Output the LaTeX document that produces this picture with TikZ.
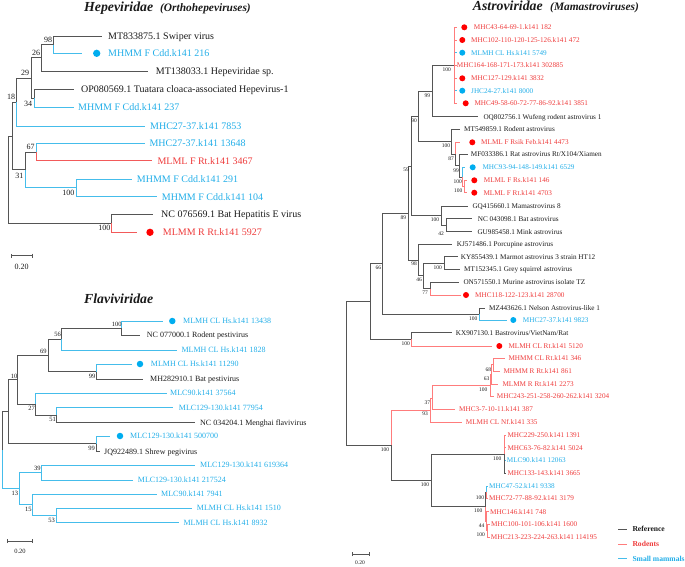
\documentclass[tikz,border=0pt]{standalone}
\usepackage{fontspec}
\setmainfont{Liberation Serif}
\usetikzlibrary{arrows.meta}
\definecolor{gl}{HTML}{555555}
\definecolor{rl}{HTML}{F25A5A}
\definecolor{pl}{HTML}{FF7C7C}
\definecolor{bl}{HTML}{45BDEB}
\definecolor{rt}{HTML}{EE3B3B}
\definecolor{bt}{HTML}{22AEE8}
\definecolor{rd}{HTML}{FF0000}
\definecolor{bd}{HTML}{00ADEF}
\definecolor{tx}{HTML}{1A1A1A}
\tikzset{
  hg/.style={draw=gl,line width=.9pt}, hr/.style={draw=rl,line width=.9pt}, hb/.style={draw=bl,line width=.9pt},
  fg/.style={draw=gl,line width=.8pt}, fb/.style={draw=bl,line width=.8pt},
  ag/.style={draw=gl,line width=.7pt}, ar/.style={draw=pl,line width=.7pt}, ab/.style={draw=bl,line width=.7pt},
  hlab/.style={anchor=west,inner sep=0pt,font=\fontsize{10}{12}\selectfont,text height=6.6pt,text depth=0pt},
  flab/.style={anchor=west,inner sep=0pt,font=\fontsize{8}{10}\selectfont,text height=5.3pt,text depth=0pt},
  alab/.style={anchor=west,inner sep=0pt,font=\fontsize{7.2}{9}\selectfont,text height=4.75pt,text depth=0pt},
  hk/.style={hlab,text=tx}, hrt/.style={hlab,text=rt}, hbt/.style={hlab,text=bt},
  fk/.style={flab,text=tx}, fbt/.style={flab,text=bt},
  ak/.style={alab,text=tx}, art/.style={alab,text=rt}, abt/.style={alab,text=bt},
  hbs/.style={inner sep=0pt,font=\fontsize{8}{9}\selectfont,text=tx},
  fbs/.style={inner sep=0pt,font=\fontsize{6.5}{8}\selectfont,text=tx},
  abs/.style={inner sep=0pt,font=\fontsize{5.5}{7}\selectfont,text=tx},
  rdot/.style={circle,fill=rd,inner sep=0pt,minimum size=#1},
  bdot/.style={circle,fill=bd,inner sep=0pt,minimum size=#1},
  ttl/.style={anchor=base west,inner sep=0pt,font=\fontsize{13.8}{15}\bfseries\itshape\selectfont,text=tx},
  sttl/.style={anchor=base west,inner sep=0pt,font=\fontsize{11.4}{13}\bfseries\itshape\selectfont,text=tx},
  sbar/.style={draw=gl,line width=.7pt,{Bar[width=4pt]}-{Bar[width=4pt]}},
  leg/.style={anchor=west,inner sep=0pt,font=\fontsize{7.6}{9}\bfseries\selectfont,text height=5pt,text depth=0pt}
}
\begin{document}
\begin{tikzpicture}[x=1pt,y=-1pt]
\useasboundingbox (0,0) rectangle (685,566);

%================ Hepeviridae ================
\node[ttl] (ht) at (84,11) {Hepeviridae};
\node[sttl] (hst) at (160,11) {(Orthohepeviruses)};

\coordinate (h98) at (53,44.7);
\coordinate (h26) at (41.3,57.9);
\coordinate (h34) at (34.3,98.3);
\coordinate (h29) at (31,78.1);
\coordinate (h18) at (16,102);
\coordinate (h67) at (36,152);
\coordinate (h100a) at (76,187.8);
\coordinate (h31) at (25,169.9);
\coordinate (hX) at (12.3,136);
\coordinate (h100b) at (111,223.3);
\coordinate (hroot) at (8,179.7);
\coordinate (ht1) at (102,36);
\coordinate (ht2) at (82,53.3);
\coordinate (ht3) at (148,71);
\coordinate (ht4) at (74,89.3);
\coordinate (ht5) at (74,107.3);
\coordinate (ht6) at (145,126);
\coordinate (ht7) at (145,143.3);
\coordinate (ht8) at (151.7,160.7);
\coordinate (ht9) at (131.7,179);
\coordinate (ht10) at (156.7,196.7);
\coordinate (ht11) at (153.3,214.3);
\coordinate (ht12) at (137,232.3);

\draw[hg] (hroot) |- (hX);  \draw[hg] (hroot) |- (h100b);
\draw[hg] (hX) |- (h18);    \draw[hg] (hX) |- (h31);
\draw[hb] (h18) |- (ht6);   \draw[hg] (h18) |- (h29);
\draw[hg] (h29) |- (h26);   \draw[hg] (h29) |- (h34);
\draw[hg] (h26) |- (h98);   \draw[hg] (h26) |- (ht3);
\draw[hg] (h98) |- (ht1);   \draw[hb] (h98) |- (ht2);
\draw[hg] (h34) |- (ht4);   \draw[hb] (h34) |- (ht5);
\draw[hb] (h31) |- (h100a); \draw[hg] (h31) |- (h67);
\draw[hb] (h67) |- (ht7);   \draw[hr] (h67) |- (ht8);
\draw[hb] (h100a) |- (ht9); \draw[hb] (h100a) |- (ht10);
\draw[hg] (h100b) |- (ht11); \draw[hr] (h100b) |- (ht12);

\node[hk]  (hl1) at (108,36) {MT833875.1 Swiper virus};
\node[bdot=7.3pt] (hd2) at (96.7,53.3) {};
\node[hbt] (hl2) at (108,53.3) {MHMM F Cdd.k141 216};
\node[hk]  (hl3) at (155.7,71) {MT138033.1 Hepeviridae sp.};
\node[hk]  (hl4) at (81,89.3) {OP080569.1 Tuatara cloaca-associated Hepevirus-1};
\node[hbt] (hl5) at (78,107.3) {MHMM F Cdd.k141 237};
\node[hbt] (hl6) at (150,126) {MHC27-37.k141 7853};
\node[hbt] (hl7) at (149.3,143.3) {MHC27-37.k141 13648};
\node[hrt] (hl8) at (157.3,160.7) {MLML F Rt.k141 3467};
\node[hbt] (hl9) at (136.7,179) {MHMM F Cdd.k141 291};
\node[hbt] (hl10) at (161.7,196.7) {MHMM F Cdd.k141 104};
\node[hk]  (hl11) at (161,214.3) {NC 076569.1 Bat Hepatitis E virus};
\node[rdot=7.3pt] (hd12) at (150,232.3) {};
\node[hrt] (hl12) at (162.7,232.3) {MLMM R Rt.k141 5927};

\node[hbs] (hb98) at (48,40) {98};
\node[hbs] (hb26) at (36,52.7) {26};
\node[hbs] (hb29) at (25,73) {29};
\node[hbs] (hb34) at (28,104) {34};
\node[hbs] (hb18) at (11,97) {18};
\node[hbs] (hb67) at (30.7,146.7) {67};
\node[hbs] (hb31) at (19.3,175.7) {31};
\node[hbs] (hb100a) at (68.3,193.3) {100};
\node[hbs] (hb100b) at (104.3,228.3) {100};

\coordinate (hs1) at (11,255.7); \coordinate (hs2) at (32.7,255.7);
\draw[sbar] (hs1) -- (hs2);
\node[hbs] (hsl) at (21.7,266.7) {0.20};

%================ Flaviviridae ================
\node[ttl] (ft) at (84,303) {Flaviviridae};

\coordinate (f100) at (121.7,328.2);
\coordinate (f56) at (61.7,339.1);
\coordinate (f99) at (96,371.7);
\coordinate (f69) at (48.3,355.4);
\coordinate (f51) at (56.7,415.2);
\coordinate (f27) at (35,404.3);
\coordinate (f10) at (17.3,379.8);
\coordinate (f99b) at (96,443.8);
\coordinate (fA) at (8,411.8);
\coordinate (f39) at (41,472.5);
\coordinate (f53) at (56,515.5);
\coordinate (f15) at (32.3,504.8);
\coordinate (f13) at (19,488.6);
\coordinate (froot) at (2.7,450.2);
\coordinate (ft1) at (163.3,321);
\coordinate (ft2) at (140,335.3);
\coordinate (ft3) at (176.7,350);
\coordinate (ft4) at (131.7,364);
\coordinate (ft5) at (143.3,379.3);
\coordinate (ft6) at (166.7,393.3);
\coordinate (ft7) at (173.3,407.7);
\coordinate (ft8) at (195,422.7);
\coordinate (ft9) at (110,436);
\coordinate (ft10) at (100,451.7);
\coordinate (ft11) at (195,465);
\coordinate (ft12) at (133.3,480);
\coordinate (ft13) at (156.7,494);
\coordinate (ft14) at (192.3,508.3);
\coordinate (ft15) at (179,522.7);

\draw[fb] (froot) |- (f13);  \draw[fg] (froot) |- (fA);
\draw[fg] (fA) |- (f10);     \draw[fg] (fA) |- (f99b);
\draw[fg] (f10) |- (f69);    \draw[fg] (f10) |- (f27);
\draw[fg] (f69) |- (f56);    \draw[fg] (f69) |- (f99);
\draw[fb] (f56) |- (ft3);    \draw[fg] (f56) |- (f100);
\draw[fb] (f100) |- (ft1);   \draw[fg] (f100) |- (ft2);
\draw[fb] (f99) |- (ft4);    \draw[fg] (f99) |- (ft5);
\draw[fb] (f27) |- (ft6);    \draw[fg] (f27) |- (f51);
\draw[fb] (f51) |- (ft7);    \draw[fg] (f51) |- (ft8);
\draw[fb] (f99b) |- (ft9);   \draw[fg] (f99b) |- (ft10);
\draw[fb] (f13) |- (f39);    \draw[fb] (f13) |- (f15);
\draw[fb] (f39) |- (ft11);   \draw[fb] (f39) |- (ft12);
\draw[fb] (f15) |- (ft13);   \draw[fb] (f15) |- (f53);
\draw[fb] (f53) |- (ft14);   \draw[fb] (f53) |- (ft15);

\node[bdot=6.5pt] (fd1) at (172.3,321) {};
\node[fbt] (fl1) at (183,321) {MLMH CL Hs.k141 13438};
\node[fk]  (fl2) at (146.7,335.3) {NC 077000.1 Rodent pestivirus};
\node[fbt] (fl3) at (181.3,350) {MLMH CL Hs.k141 1828};
\node[bdot=6.5pt] (fd4) at (140,364) {};
\node[fbt] (fl4) at (150.7,364) {MLMH CL Hs.k141 11290};
\node[fk]  (fl5) at (150,379.3) {MH282910.1 Bat pestivirus};
\node[fbt] (fl6) at (170,393.3) {MLC90.k141 37564};
\node[fbt] (fl7) at (178.7,407.7) {MLC129-130.k141 77954};
\node[fk]  (fl8) at (200,422.7) {NC 034204.1 Menghai flavivirus};
\node[bdot=6.5pt] (fd9) at (120,436) {};
\node[fbt] (fl9) at (130,436) {MLC129-130.k141 500700};
\node[fk]  (fl10) at (104,451.7) {JQ922489.1 Shrew pegivirus};
\node[fbt] (fl11) at (200,465) {MLC129-130.k141 619364};
\node[fbt] (fl12) at (137.7,480) {MLC129-130.k141 217524};
\node[fbt] (fl13) at (161,494) {MLC90.k141 7941};
\node[fbt] (fl14) at (196.7,508.3) {MLMH CL Hs.k141 1510};
\node[fbt] (fl15) at (183.3,522.7) {MLMH CL Hs.k141 8932};

\node[fbs] (fb100) at (116.7,324) {100};
\node[fbs] (fb56) at (57.7,334.7) {56};
\node[fbs] (fb69) at (43.3,351.7) {69};
\node[fbs] (fb99) at (92,376) {99};
\node[fbs] (fb10) at (14,376) {10};
\node[fbs] (fb27) at (31.7,408.3) {27};
\node[fbs] (fb51) at (52.7,419.3) {51};
\node[fbs] (fb99b) at (91.7,448.3) {99};
\node[fbs] (fb39) at (37.3,468.3) {39};
\node[fbs] (fb13) at (15,493.3) {13};
\node[fbs] (fb15) at (28.3,509.3) {15};
\node[fbs] (fb53) at (51.7,520) {53};

\coordinate (fs1) at (7.3,541); \coordinate (fs2) at (32.7,541);
\draw[sbar] (fs1) -- (fs2);
\node[fbs] (fsl) at (20,551) {0.20};

%================ Astroviridae ================
\node[ttl] (at) at (472.7,10.7) {Astroviridae};
\node[sttl] (ast) at (550,10.7) {(Mamastroviruses)};

\coordinate (a100) at (454.3,65.3);
\coordinate (a99) at (432.3,91);
\coordinate (a90) at (418.3,116.3);
\coordinate (a100c) at (451.7,141.5);
\coordinate (a87) at (455.3,154);
\coordinate (a99b) at (459.5,165.6);
\coordinate (a100d) at (462.5,176.9);
\coordinate (a100e) at (464,186.5);
\coordinate (a42) at (446.7,225.2);
\coordinate (a100f) at (441,215.6);
\coordinate (aX1) at (411.7,166);
\coordinate (a98) at (418.3,259.9);
\coordinate (a46) at (423.3,275.8);
\coordinate (a100g) at (444,263);
\coordinate (a77) at (430,288.7);
\coordinate (a89) at (408.3,213);
\coordinate (a100h) at (479.3,314.2);
\coordinate (a66) at (382.7,263.6);
\coordinate (a100i) at (411.7,339.3);
\coordinate (aN) at (370.7,301.5);
\coordinate (a68) at (493.3,364.7);
\coordinate (a63) at (491.7,374.3);
\coordinate (a100l) at (490.7,385.2);
\coordinate (a37) at (432.3,398);
\coordinate (a93) at (430.7,410.2);
\coordinate (a100m) at (504,454.2);
\coordinate (aA) at (486.3,492.2);
\coordinate (aC) at (487,530.7);
\coordinate (aB) at (486.3,521.2);
\coordinate (a100n) at (485.7,506.7);
\coordinate (a100k) at (431.7,480.5);
\coordinate (a100j) at (391,445.3);
\coordinate (aroot) at (346,373.4);

\coordinate (at1) at (456.7,27.3);
\coordinate (at2) at (456.7,40);
\coordinate (at3) at (456.7,52.7);
\coordinate (at4) at (456.7,65);
\coordinate (at5) at (456.7,78.3);
\coordinate (at6) at (456.7,90.7);
\coordinate (at7) at (456.7,103.3);
\coordinate (at8) at (478.3,116.7);
\coordinate (at9) at (460,129);
\coordinate (at10) at (460,142.3);
\coordinate (at11) at (468.3,154.3);
\coordinate (at12) at (465,167.3);
\coordinate (at13) at (466.5,180.3);
\coordinate (at14) at (466.5,192.7);
\coordinate (at15) at (468.3,206);
\coordinate (at16) at (471.7,218.7);
\coordinate (at17) at (471.7,231.7);
\coordinate (at18) at (451.7,244);
\coordinate (at19) at (458.3,256.7);
\coordinate (at20) at (460,269.3);
\coordinate (at21) at (459.3,282.3);
\coordinate (at22) at (460.7,295);
\coordinate (at23) at (485,308.3);
\coordinate (at24) at (506.7,320);
\coordinate (at25) at (451.7,332.7);
\coordinate (at26) at (491.7,346);
\coordinate (at27) at (505,358.3);
\coordinate (at28) at (500,371);
\coordinate (at29) at (498.3,384);
\coordinate (at30) at (494,396);
\coordinate (at31) at (455,409.3);
\coordinate (at32) at (461.7,422.3);
\coordinate (at33) at (505.5,435);
\coordinate (at34) at (505.5,447.7);
\coordinate (at35) at (505.5,460);
\coordinate (at36) at (505.5,473.3);
\coordinate (at37) at (488,486);
\coordinate (at38) at (488,498.3);
\coordinate (at39) at (488.5,511.7);
\coordinate (at40) at (489.5,524);
\coordinate (at41) at (489.5,537.3);

% branches
\draw[ag] (aroot) |- (aN);   \draw[ag] (aroot) |- (a100j);
\draw[ag] (aN) |- (a66);     \draw[ag] (aN) |- (a100i);
\draw[ag] (a66) |- (a89);    \draw[ag] (a66) |- (a100h);
\draw[ag] (a89) |- (aX1);    \draw[ag] (a89) |- (a98);
\draw[ag] (aX1) |- (a90);    \draw[ag] (aX1) |- (a100f);
\draw[ag] (a90) |- (a99);    \draw[ag] (a90) |- (a100c);
\draw[ag] (a99) |- (a100);   \draw[ag] (a99) |- (at8);
\draw[ab] (a100) |- (at3);   \draw[ab] (a100) |- (at6);
\draw[ar] (a100) |- (at1);   \draw[ar] (a100) |- (at2);
\draw[ar] (a100) |- (at4);   \draw[ar] (a100) |- (at5);
\draw[ar] (a100) |- (at7);
\draw[ag] (a100c) |- (at9);  \draw[ag] (a100c) |- (a87);
\draw[ar] (a87) |- (at10);   \draw[ag] (a87) |- (a99b);
\draw[ag] (a99b) |- (at11);  \draw[ag] (a99b) |- (a100d);
\draw[ab] (a100d) |- (at12); \draw[ar] (a100d) |- (a100e);
\draw[ar] (a100e) |- (at13); \draw[ar] (a100e) |- (at14);
\draw[ag] (a100f) |- (at15); \draw[ag] (a100f) |- (a42);
\draw[ag] (a42) |- (at16);   \draw[ag] (a42) |- (at17);
\draw[ag] (a98) |- (at18);   \draw[ag] (a98) |- (a46);
\draw[ag] (a46) |- (a100g);  \draw[ag] (a46) |- (a77);
\draw[ag] (a100g) |- (at19); \draw[ag] (a100g) |- (at20);
\draw[ag] (a77) |- (at21);   \draw[ar] (a77) |- (at22);
\draw[ag] (a100h) |- (at23); \draw[ab] (a100h) |- (at24);
\draw[ag] (a100i) |- (at25); \draw[ar] (a100i) |- (at26);
\draw[ar] (a100j) |- (a93);  \draw[ag] (a100j) |- (a100k);
\draw[ar] (a93) |- (a37);    \draw[ar] (a93) |- (at32);
\draw[ar] (a37) |- (a100l);  \draw[ar] (a37) |- (at31);
\draw[ar] (a100l) |- (a63);  \draw[ar] (a100l) |- (at30);
\draw[ar] (a63) |- (a68);    \draw[ar] (a63) |- (at29);
\draw[ar] (a68) |- (at27);   \draw[ar] (a68) |- (at28);
\draw[ag] (a100k) |- (a100m); \draw[ag] (a100k) |- (a100n);
\draw[ab] (a100m) |- (at35); \draw[ar] (a100m) |- (at33);
\draw[ar] (a100m) |- (at34); \draw[ag] (a100m) |- (at36);
\draw[ag] (a100n) |- (aA);   \draw[ar] (a100n) |- (aB);
\draw[ab] (aA) |- (at37);    \draw[ar] (aA) |- (at38);
\draw[ar] (aB) |- (at39);    \draw[ar] (aB) |- (aC);
\draw[ar] (aC) |- (at40);    \draw[ar] (aC) |- (at41);

% dots
\node[rdot=6pt] (ad1) at (464.3,27.3) {};
\node[rdot=6pt] (ad2) at (462.3,40) {};
\node[bdot=6pt] (ad3) at (462.3,52.7) {};
\node[rdot=6pt] (ad5) at (462.3,78.3) {};
\node[bdot=6pt] (ad6) at (462.3,90.7) {};
\node[rdot=6pt] (ad7) at (465.7,103.3) {};
\node[rdot=6pt] (ad10) at (472.3,142.3) {};
\node[bdot=6pt] (ad12) at (472.7,167.3) {};
\node[rdot=6pt] (ad13) at (474.3,180.3) {};
\node[rdot=6pt] (ad14) at (474.3,192.7) {};
\node[rdot=6pt] (ad22) at (466,295) {};
\node[bdot=6pt] (ad24) at (513.3,320) {};
\node[rdot=6pt] (ad26) at (499.3,346) {};

% leaf labels
\node[art] (al1) at (473.7,27.3) {MHC43-64-69-1.k141 182};
\node[art] (al2) at (471,40) {MHC102-110-120-125-126.k141 472};
\node[abt] (al3) at (471,52.7) {MLMH CL Hs.k141 5749};
\node[art] (al4) at (456.7,65) {MHC164-168-171-173.k141 302885};
\node[art] (al5) at (471,78.3) {MHC127-129.k141 3832};
\node[abt] (al6) at (471,90.7) {JHC24-27.k141 8000};
\node[art] (al7) at (474.3,103.3) {MHC49-58-60-72-77-86-92.k141 3851};
\node[ak]  (al8) at (483.3,116.7) {OQ802756.1 Wufeng rodent astrovirus 1};
\node[ak]  (al9) at (464,129) {MT549859.1 Rodent astrovirus};
\node[art] (al10) at (481,142.3) {MLML F Rsik Feb.k141 4473};
\node[ak]  (al11) at (470.7,154.3) {MF033386.1 Rat astrovirus Rt/X104/Xiamen};
\node[abt] (al12) at (482.3,167.3) {MHC93-94-148-149.k141 6529};
\node[art] (al13) at (483.7,180.3) {MLML F Rs.k141 146};
\node[art] (al14) at (483.3,192.7) {MLML F Rt.k141 4703};
\node[ak]  (al15) at (472.3,206) {GQ415660.1 Mamastrovirus 8};
\node[ak]  (al16) at (477.7,218.7) {NC 043098.1 Bat astrovirus};
\node[ak]  (al17) at (477.3,231.7) {GU985458.1 Mink astrovirus};
\node[ak]  (al18) at (456.7,244) {KJ571486.1 Porcupine astrovirus};
\node[ak]  (al19) at (460.7,256.7) {KY855439.1 Marmot astrovirus 3 strain HT12};
\node[ak]  (al20) at (464,269.3) {MT152345.1 Grey squirrel astrovirus};
\node[ak]  (al21) at (463.3,282.3) {ON571550.1 Murine astrovirus isolate TZ};
\node[art] (al22) at (475,295) {MHC118-122-123.k141 28700};
\node[ak]  (al23) at (489,308.3) {MZ443626.1 Nelson Astrovirus-like 1};
\node[abt] (al24) at (522.7,320) {MHC27-37.k141 9823};
\node[ak]  (al25) at (455.7,332.7) {KX907130.1 Bastrovirus/VietNam/Rat};
\node[art] (al26) at (508.3,346) {MLMH CL Rt.k141 5120};
\node[art] (al27) at (508.3,358.3) {MHMM CL Rt.k141 346};
\node[art] (al28) at (503.3,371) {MHMM R Rt.k141 861};
\node[art] (al29) at (502.3,384) {MLMM R Rt.k141 2273};
\node[art] (al30) at (496.7,396) {MHC243-251-258-260-262.k141 3204};
\node[art] (al31) at (459,409.3) {MHC3-7-10-11.k141 387};
\node[art] (al32) at (465.7,422.3) {MLMH CL Nf.k141 335};
\node[art] (al33) at (507.3,435) {MHC229-250.k141 1391};
\node[art] (al34) at (507.3,447.7) {MHC63-76-82.k141 5024};
\node[abt] (al35) at (506.7,460) {MLC90.k141 12063};
\node[art] (al36) at (507.3,473.3) {MHC133-143.k141 3665};
\node[abt] (al37) at (489,486) {MHC47-52.k141 9338};
\node[art] (al38) at (489,498.3) {MHC72-77-88-92.k141 3179};
\node[art] (al39) at (490,511.7) {MHC146.k141 748};
\node[art] (al40) at (491,524) {MHC100-101-106.k141 1600};
\node[art] (al41) at (490.7,537.3) {MHC213-223-224-263.k141 114195};

% bootstrap values
\node[abs] (ab100) at (446.7,70) {100};
\node[abs] (ab99) at (427.3,96) {99};
\node[abs] (ab90) at (414,120.5) {90};
\node[abs] (ab59) at (406,170) {59};
\node[abs] (ab100c) at (446,145.7) {100};
\node[abs] (ab87) at (451,158.3) {87};
\node[abs] (ab99b) at (456,170.7) {99};
\node[abs] (ab100d) at (457.7,181.7) {100};
\node[abs] (ab100e) at (458.3,191) {100};
\node[abs] (ab89) at (403.3,217.3) {89};
\node[abs] (ab100f) at (435,219.3) {100};
\node[abs] (ab42) at (441,233.3) {42};
\node[abs] (ab98) at (414,264) {98};
\node[abs] (ab100g) at (437.7,267.7) {100};
\node[abs] (ab46) at (419,280) {46};
\node[abs] (ab77) at (425,292.3) {77};
\node[abs] (ab66) at (378.3,267.3) {66};
\node[abs] (ab100h) at (473.3,319) {100};
\node[abs] (ab100i) at (405.7,344) {100};
\node[abs] (ab68) at (488.3,370) {68};
\node[abs] (ab63) at (486.7,379) {63};
\node[abs] (ab100l) at (483.3,390) {100};
\node[abs] (ab37) at (427.3,402.3) {37};
\node[abs] (ab93) at (425,414) {93};
\node[abs] (ab100j) at (385,449.3) {100};
\node[abs] (ab100m) at (497.3,459) {100};
\node[abs] (ab100k) at (425,485) {100};
\node[abs] (ab100A) at (480,497.3) {100};
\node[abs] (ab100n) at (478.3,511) {100};
\node[abs] (ab44) at (481.7,525.7) {44};
\node[abs] (ab100C) at (480.7,535) {100};

\coordinate (as1) at (351.7,554.3); \coordinate (as2) at (369.3,554.3);
\draw[sbar] (as1) -- (as2);
\node[abs] (asl) at (360,562.7) {0.20};

% legend
\coordinate (lg1a) at (618.3,529.3); \coordinate (lg1b) at (626.7,529.3);
\coordinate (lg2a) at (618.3,544);   \coordinate (lg2b) at (626.7,544);
\coordinate (lg3a) at (618.3,558.7); \coordinate (lg3b) at (626.7,558.7);
\draw[ag] (lg1a) -- (lg1b);
\draw[ar] (lg2a) -- (lg2b);
\draw[ab] (lg3a) -- (lg3b);
\node[leg,text=tx] (lgt1) at (632.3,529.3) {Reference};
\node[leg,text=rt] (lgt2) at (632.3,544) {Rodents};
\node[leg,text=bt] (lgt3) at (632.3,558.7) {Small mammals};
\end{tikzpicture}
\end{document}
